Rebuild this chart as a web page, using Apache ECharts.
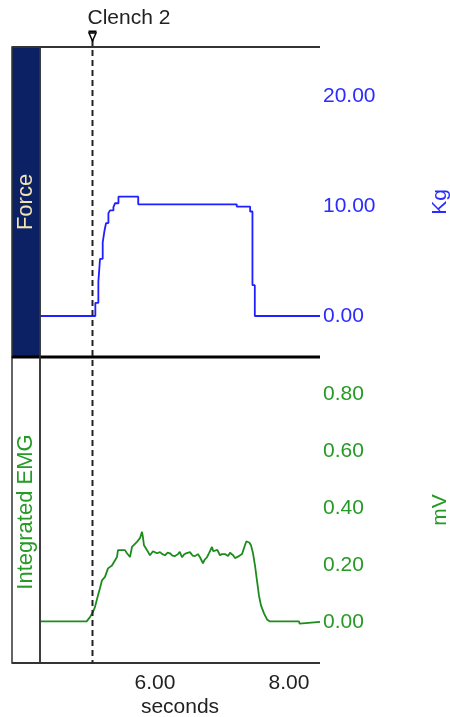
<!DOCTYPE html>
<html>
<head>
<meta charset="utf-8">
<script src="https://cdn.jsdelivr.net/npm/echarts@6/dist/echarts.min.js"></script>
<style>
html,body{margin:0;padding:0;background:#fff;}
#c{width:450px;height:717px;}
</style>
</head>
<body>
<div id="c"></div>
<script>
// ---- data ----
const forceTime = [4.284, 5.08, 5.11, 5.155, 5.18, 5.22, 5.245, 5.27, 5.305, 5.33, 5.38, 5.405, 5.455, 5.75, 7.22, 7.42, 7.455, 7.49, 8.463];
const forceKg   = [0,     0,    1.2,  3.1,   5.2,  6.7,  7.7,   8.45, 9.35,  9.6,  9.9,  10.25, 10.85, 10.15, 9.95, 9.5, 2.8,   0,    0];

const emgTime = [4.284, 4.98, 5.03, 5.07, 5.104, 5.149, 5.179, 5.209, 5.254, 5.299, 5.358, 5.433, 5.448, 5.552, 5.582, 5.627, 5.657, 5.731, 5.776, 5.806, 5.82, 5.836, 5.896, 5.925, 5.97, 6.03, 6.075, 6.11, 6.149, 6.19, 6.224, 6.26, 6.299, 6.343, 6.37, 6.403, 6.43, 6.463, 6.49, 6.522, 6.56, 6.597, 6.64, 6.672, 6.716, 6.74, 6.776, 6.81, 6.851, 6.87, 6.896, 6.93, 6.97, 7.0, 7.045, 7.09, 7.12, 7.149, 7.17, 7.194, 7.22, 7.254, 7.299, 7.343, 7.365, 7.388, 7.41, 7.433, 7.463, 7.493, 7.522, 7.552, 7.582, 7.627, 7.672, 7.716, 8.15, 8.16, 8.175, 8.463];
const emgMv   = [0.004, 0.004, 0.019, 0.035, 0.054, 0.095, 0.12, 0.148, 0.16, 0.19, 0.20, 0.23, 0.254, 0.254, 0.243, 0.23, 0.265, 0.283, 0.296, 0.318, 0.30, 0.271, 0.248, 0.236, 0.25, 0.243, 0.247, 0.24, 0.236, 0.245, 0.243, 0.235, 0.233, 0.24, 0.248, 0.229, 0.238, 0.243, 0.25, 0.247, 0.235, 0.233, 0.24, 0.229, 0.208, 0.22, 0.229, 0.245, 0.265, 0.25, 0.243, 0.255, 0.236, 0.24, 0.24, 0.233, 0.245, 0.247, 0.235, 0.226, 0.23, 0.233, 0.24, 0.271, 0.285, 0.289, 0.28, 0.271, 0.243, 0.20, 0.148, 0.095, 0.06, 0.032, 0.011, 0.004, 0.004, -0.004, 0.002, 0.002];

const xTicks = [6, 8];
const forceTicks = [0, 10, 20];
const emgTicks = [0, 0.2, 0.4, 0.6, 0.8];
const markerTime = 5.06;
const markerLabel = 'Clench 2';

// axis ranges
const xMin = 4.284, xMax = 8.463;
const forceMin = -3.727, forceMax = 24.45;
const emgMin = -0.142, emgMax = 0.9316;

// ---- style ----
const FONT = 'Liberation Sans, Arial, sans-serif';
const BLUE = '#1f1fff';
const BLUE_TXT = '#2b2bff';
const GREEN = '#1c8c1c';
const GREEN_TXT = '#259a25';
const NAVY = '#0b2163';
const FS = 21;

const zip = (a, b) => a.map((v, i) => [v, b[i]]);
const fmt2 = v => v.toFixed(2);

const chart = echarts.init(document.getElementById('c'), null, {renderer: 'canvas'});

const frame = [
  {type: 'rect', shape: {x: 12, y: 47, width: 28, height: 310}, style: {fill: NAVY, stroke: '#333', lineWidth: 1.5}, z: 1},
  {type: 'rect', shape: {x: 12, y: 357, width: 28, height: 306}, style: {fill: '#fff', stroke: '#333', lineWidth: 1.5}, z: 1},
  {type: 'line', shape: {x1: 12, y1: 47, x2: 320, y2: 47}, style: {stroke: '#333', lineWidth: 2}, z: 5},
  {type: 'line', shape: {x1: 12, y1: 357, x2: 320, y2: 357}, style: {stroke: '#000', lineWidth: 3}, z: 5},
  {type: 'line', shape: {x1: 12, y1: 663, x2: 320, y2: 663}, style: {stroke: '#333', lineWidth: 2}, z: 5},
  {type: 'line', shape: {x1: 40, y1: 47, x2: 40, y2: 663}, style: {stroke: '#333', lineWidth: 1.5}, z: 5},
  {type: 'text', x: 26, y: 202, rotation: Math.PI / 2, style: {text: 'Force', fill: '#f3e3b3', font: '22px ' + FONT, textAlign: 'center', textVerticalAlign: 'middle'}, z: 6},
  {type: 'text', x: 26, y: 512, rotation: Math.PI / 2, style: {text: 'Integrated EMG', fill: GREEN_TXT, font: '22px ' + FONT, textAlign: 'center', textVerticalAlign: 'middle'}, z: 6}
];

const option = {
  animation: false,
  backgroundColor: '#fff',
  textStyle: {fontFamily: FONT},
  grid: [
    {left: 40, right: 130, top: 47, height: 310, containLabel: false, outerBoundsMode: 'none'},
    {left: 40, right: 130, top: 357, height: 306, containLabel: false, outerBoundsMode: 'none'}
  ],
  xAxis: [
    {gridIndex: 0, type: 'value', min: xMin, max: xMax, show: false},
    {gridIndex: 1, type: 'value', min: xMin, max: xMax,
      axisLine: {show: false}, axisTick: {show: false}, splitLine: {show: false},
      axisLabel: {customValues: xTicks, formatter: fmt2, margin: 10, color: '#222', fontSize: FS, fontFamily: FONT},
      name: 'seconds', nameLocation: 'middle', nameGap: 34,
      nameTextStyle: {color: '#222', fontSize: FS, fontFamily: FONT}
    }
  ],
  yAxis: [
    {gridIndex: 0, type: 'value', position: 'right', min: forceMin, max: forceMax,
      axisLine: {show: false}, axisTick: {show: false}, splitLine: {show: false},
      axisLabel: {customValues: forceTicks, formatter: fmt2, margin: 3, color: BLUE_TXT, fontSize: FS, fontFamily: FONT},
      name: 'Kg', nameLocation: 'middle', nameRotate: 90, nameGap: 110,
      nameTextStyle: {color: BLUE_TXT, fontSize: FS, fontFamily: FONT}
    },
    {gridIndex: 1, type: 'value', position: 'right', min: emgMin, max: emgMax,
      axisLine: {show: false}, axisTick: {show: false}, splitLine: {show: false},
      axisLabel: {customValues: emgTicks, formatter: fmt2, margin: 3, color: GREEN_TXT, fontSize: FS, fontFamily: FONT},
      name: 'mV', nameLocation: 'middle', nameRotate: 90, nameGap: 110,
      nameTextStyle: {color: GREEN_TXT, fontSize: FS, fontFamily: FONT}
    }
  ],
  series: [
    {name: 'Force', type: 'line', xAxisIndex: 0, yAxisIndex: 0, step: 'end', showSymbol: false,
      data: zip(forceTime, forceKg), lineStyle: {color: BLUE, width: 1.8}, z: 3},
    {name: 'Integrated EMG', type: 'line', xAxisIndex: 1, yAxisIndex: 1, showSymbol: false,
      data: zip(emgTime, emgMv), lineStyle: {color: GREEN, width: 1.8}, z: 3}
  ],
  graphic: frame
};
chart.setOption(option);

// marker through the library's x scale
const mx = Math.round(chart.convertToPixel({xAxisIndex: 1}, markerTime)) + 0.5;
chart.setOption({
  graphic: frame.concat([
    {type: 'line', shape: {x1: mx, y1: 40, x2: mx, y2: 663}, style: {stroke: '#222', lineWidth: 2, lineDash: [6, 4]}, z: 7},
    {type: 'polygon', shape: {points: [[mx - 3.5, 33], [mx + 3.5, 33], [mx, 41]]}, style: {fill: '#fff', stroke: '#000', lineWidth: 1.5}, z: 8},
    {type: 'line', shape: {x1: mx - 4, y1: 31.5, x2: mx + 4, y2: 31.5}, style: {stroke: '#000', lineWidth: 2}, z: 8},
    {type: 'text', x: mx - 5, y: 18, style: {text: markerLabel, fill: '#222', font: FS + 'px ' + FONT, textAlign: 'left', textVerticalAlign: 'middle'}, z: 8}
  ])
}, {replaceMerge: ['graphic']});
</script>
</body>
</html>
